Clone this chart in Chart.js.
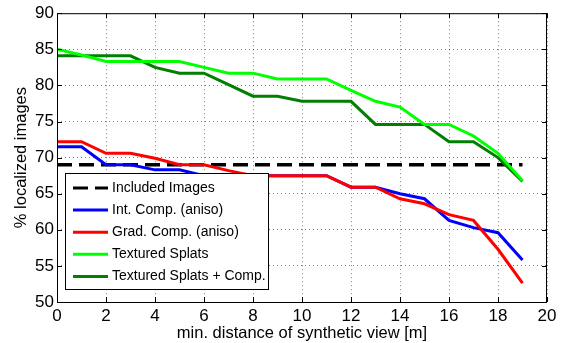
<!DOCTYPE html>
<html>
<head>
    <title>Localized images vs. synthetic view distance</title>
    <script src="https://cdn.jsdelivr.net/npm/chart.js"></script>
    <style>
        body {
            margin: 0;
            background: #fff;
        }
        #wrap {
            width: 561px;
            height: 343px;
            position: relative;
        }
    </style>
</head>
<body>
    <div id="wrap"><canvas id="chart"></canvas></div>

    <script>
        // Data
        const distances = [0, 1, 2, 3, 4, 5, 6, 7, 8, 9, 10, 11, 12, 13, 14, 15, 16, 17, 18, 19];
        const includedImages = [69.0, 69.0, 69.0, 69.0, 69.0, 69.0, 69.0, 69.0, 69.0, 69.0, 69.0, 69.0, 69.0, 69.0, 69.0, 69.0, 69.0, 69.0, 69.0, 69.0];
        const intComp = [71.5, 71.5, 69.0, 69.0, 68.3, 68.3, 67.5, 67.5, 67.5, 67.5, 67.5, 67.5, 65.9, 65.9, 65.0, 64.3, 61.3, 60.3, 59.6, 55.8];
        const gradComp = [72.2, 72.2, 70.6, 70.6, 69.9, 69.0, 69.0, 68.2, 67.5, 67.5, 67.5, 67.5, 65.9, 65.9, 64.3, 63.6, 62.1, 61.3, 57.3, 52.6];
        const texturedSplats = [85.0, 84.2, 83.3, 83.3, 83.3, 83.3, 82.5, 81.7, 81.7, 80.9, 80.9, 80.9, 79.3, 77.8, 77.0, 74.6, 74.6, 73.0, 70.6, 66.8];
        const splatsComp = [84.1, 84.1, 84.1, 84.1, 82.5, 81.7, 81.7, 80.1, 78.5, 78.5, 77.8, 77.8, 77.8, 74.6, 74.6, 74.6, 72.2, 72.2, 70.0, 66.7];

        const xTicks = [0, 2, 4, 6, 8, 10, 12, 14, 16, 18, 20];
        const yTicks = [50, 55, 60, 65, 70, 75, 80, 85, 90];

        const FONT = "'Liberation Sans', Arial, Helvetica, sans-serif";

        function pts(values) {
            return distances.map((d, i) => ({x: d, y: values[i]}));
        }

        // MATLAB-like frame, inward ticks and legend inside the axes
        const framePlugin = {
            id: 'frame',
            afterDatasetsDraw(chart) {
                const ctx = chart.ctx;
                const a = chart.chartArea;
                const xs = chart.scales.x;
                const ys = chart.scales.y;
                ctx.save();
                ctx.strokeStyle = '#000';
                ctx.lineWidth = 1;
                ctx.setLineDash([]);
                ctx.strokeRect(a.left + 0.5, a.top + 0.5, a.right - a.left - 1, a.bottom - a.top);

                // inward tick marks
                const tl = 5;
                ctx.beginPath();
                xTicks.forEach(v => {
                    const px = Math.round(xs.getPixelForValue(v)) + 0.5;
                    ctx.moveTo(px, a.bottom); ctx.lineTo(px, a.bottom - tl);
                    ctx.moveTo(px, a.top); ctx.lineTo(px, a.top + tl);
                });
                yTicks.forEach(v => {
                    const py = Math.round(ys.getPixelForValue(v)) + 0.5;
                    ctx.moveTo(a.left, py); ctx.lineTo(a.left + tl, py);
                    ctx.moveTo(a.right, py); ctx.lineTo(a.right - tl, py);
                });
                ctx.stroke();

                // legend box
                const bx = 65.5, by = 173.5, bw = 203, bh = 116;
                ctx.fillStyle = '#fff';
                ctx.fillRect(bx, by, bw, bh);
                ctx.strokeRect(bx, by, bw, bh);
                ctx.font = '14px ' + FONT;
                ctx.textBaseline = 'middle';
                ctx.textAlign = 'left';
                chart.data.datasets.forEach((ds, i) => {
                    const cy = 188 + i * 22.1;
                    ctx.beginPath();
                    ctx.strokeStyle = ds.borderColor;
                    ctx.lineWidth = 3;
                    ctx.setLineDash(ds.borderDash || []);
                    ctx.moveTo(73, cy);
                    ctx.lineTo(108, cy);
                    ctx.stroke();
                    ctx.setLineDash([]);
                    ctx.fillStyle = '#000';
                    ctx.fillText(ds.label, 112, cy);
                });
                ctx.restore();
            }
        };

        const ctx = document.getElementById('chart').getContext('2d');
        const chart = new Chart(ctx, {
            type: 'line',
            data: {
                datasets: [
                    {
                        label: 'Included Images',
                        data: pts(includedImages),
                        borderColor: '#000000',
                        borderDash: [15, 7],
                        borderWidth: 3.5,
                        order: 4
                    },
                    {
                        label: 'Int. Comp. (aniso)',
                        data: pts(intComp),
                        borderColor: '#0000ff',
                        borderWidth: 3,
                        order: 3
                    },
                    {
                        label: 'Grad. Comp. (aniso)',
                        data: pts(gradComp),
                        borderColor: '#ff0000',
                        borderWidth: 3,
                        order: 2
                    },
                    {
                        label: 'Textured Splats',
                        data: pts(texturedSplats),
                        borderColor: '#00ff00',
                        borderWidth: 3,
                        order: 0
                    },
                    {
                        label: 'Textured Splats + Comp.',
                        data: pts(splatsComp),
                        borderColor: '#007f00',
                        borderWidth: 3,
                        order: 1
                    }
                ]
            },
            options: {
                responsive: true,
                maintainAspectRatio: false,
                animation: false,
                layout: {
                    padding: {top: 10, right: 14, left: 0, bottom: 0}
                },
                elements: {
                    point: {radius: 0},
                    line: {tension: 0, fill: false}
                },
                plugins: {
                    legend: {display: false},
                    tooltip: {enabled: false}
                },
                scales: {
                    x: {
                        type: 'linear',
                        min: 0,
                        max: 20,
                        afterBuildTicks(scale) {
                            scale.ticks = xTicks.map(v => ({value: v}));
                        },
                        afterFit(scale) {
                            scale.height = 41;
                        },
                        ticks: {
                            padding: 4,
                            color: '#000',
                            font: {family: FONT, size: 17},
                            maxRotation: 0
                        },
                        grid: {
                            color: 'rgba(0,0,0,0.5)',
                            drawTicks: false,
                            lineWidth: 1
                        },
                        border: {display: false, dash: [1, 3]},
                        title: {
                            display: true,
                            text: 'min. distance of synthetic view [m]',
                            color: '#000',
                            font: {family: FONT, size: 16.5},
                            padding: {top: 0, bottom: 0}
                        }
                    },
                    y: {
                        min: 50,
                        max: 90,
                        afterBuildTicks(scale) {
                            scale.ticks = yTicks.map(v => ({value: v}));
                        },
                        afterFit(scale) {
                            scale.width = 57;
                        },
                        ticks: {
                            padding: 3,
                            color: '#000',
                            font: {family: FONT, size: 17}
                        },
                        grid: {
                            color: 'rgba(0,0,0,0.5)',
                            drawTicks: false,
                            lineWidth: 1
                        },
                        border: {display: false, dash: [1, 3]},
                        title: {
                            display: true,
                            text: '% localized images',
                            color: '#000',
                            font: {family: FONT, size: 16.5},
                            padding: {top: 12, bottom: 0}
                        }
                    }
                }
            },
            plugins: [framePlugin]
        });
    </script>
</body>
</html>
